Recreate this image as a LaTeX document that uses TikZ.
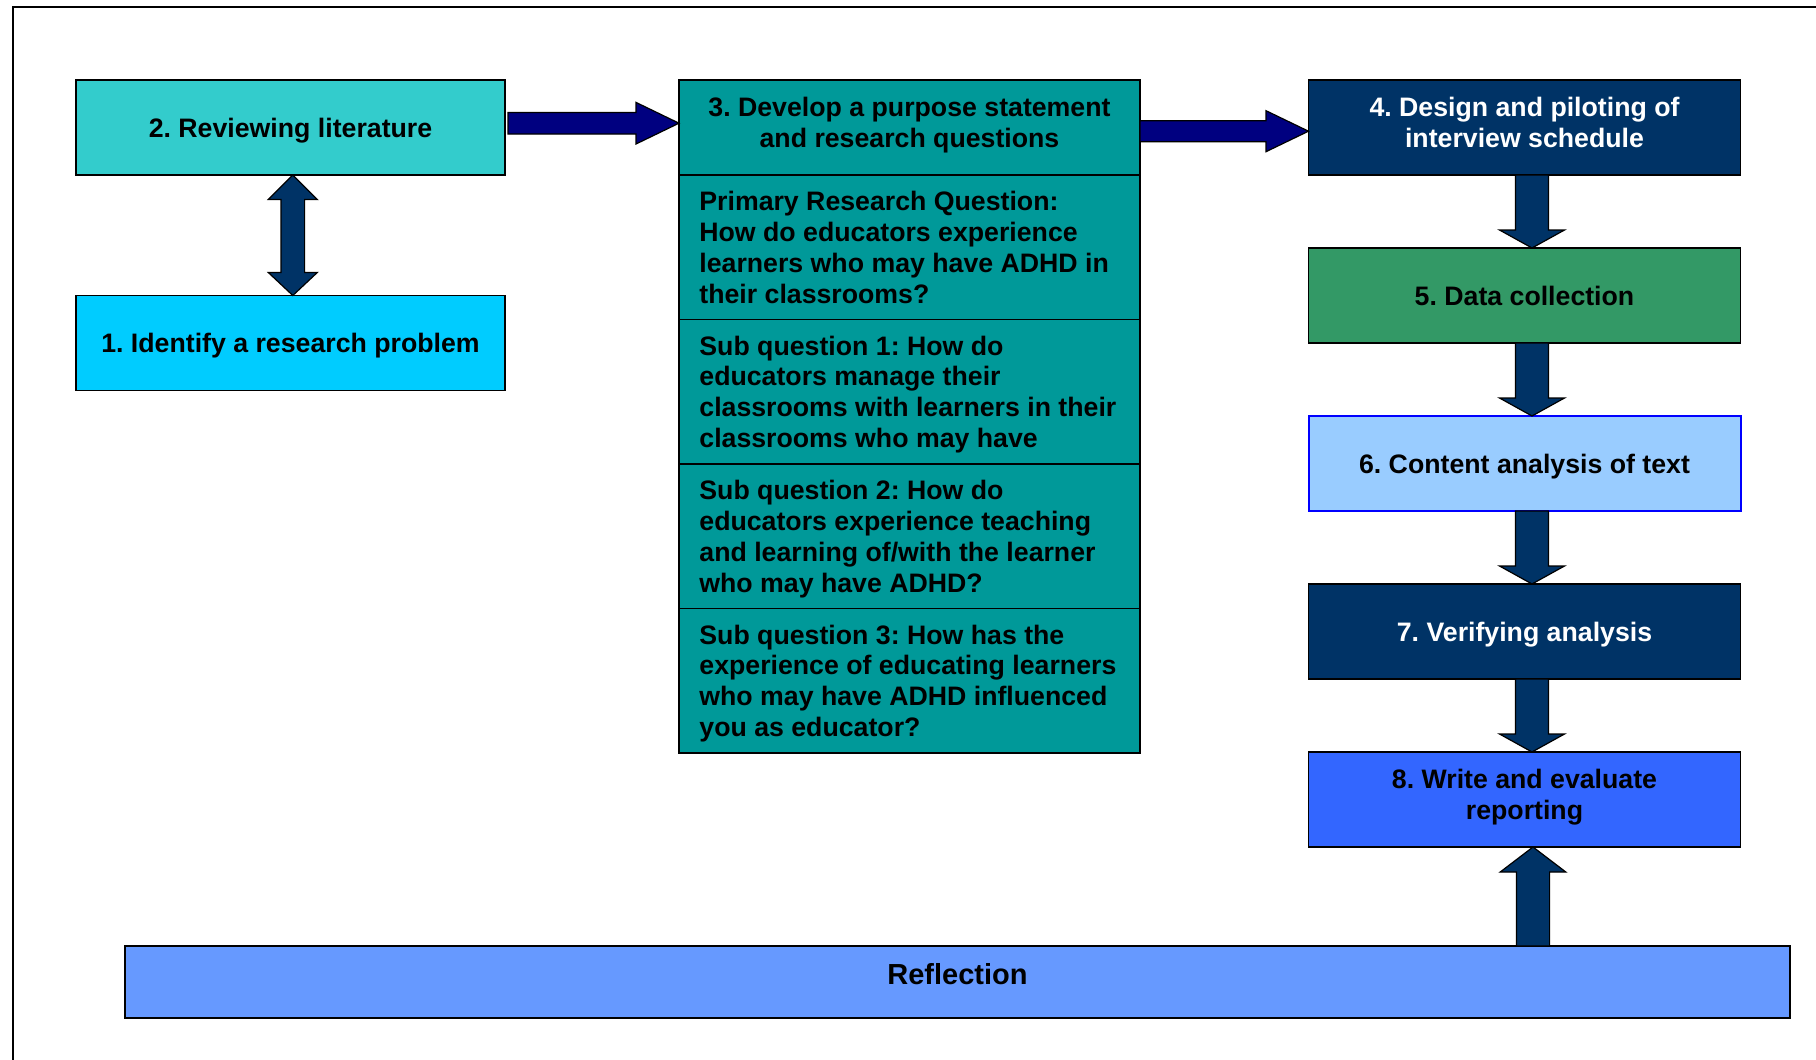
\documentclass[tikz,border=0pt]{standalone}
\usepackage{fontspec}
\setmainfont{Liberation Sans}
\frenchspacing
\usetikzlibrary{calc}
\definecolor{cTurq}{HTML}{33CCCC}
\definecolor{cSky}{HTML}{00CCFF}
\definecolor{cTeal}{HTML}{009999}
\definecolor{cDeep}{HTML}{003366}
\definecolor{cGreen}{HTML}{339966}
\definecolor{cPale}{HTML}{99CCFF}
\definecolor{cBlue}{HTML}{3366FF}
\definecolor{cRefl}{HTML}{6699FF}
\definecolor{cNavy}{HTML}{000080}
\definecolor{cEdge}{HTML}{0000FF}
\tikzset{
  box/.style={draw=black, line width=0.8pt, inner sep=0pt, outer sep=0pt,
    font=\fontsize{13.35pt}{15.45pt}\selectfont\bfseries, align=center, text depth=0pt},
  rbox/.style={box, minimum width=216pt, minimum height=47.5pt},
  lbox/.style={box, minimum width=214.5pt, minimum height=47.5pt},
  sec/.style={box, fill=cTeal, minimum width=230.5pt, minimum height=72.25pt, anchor=north},
  txt/.style={inner sep=0pt, font=\fontsize{13.35pt}{15.45pt}\selectfont\bfseries, align=center, text depth=0pt},
  qtxt/.style={inner sep=0pt, font=\fontsize{13.35pt}{15.45pt}\selectfont\bfseries, align=left, anchor=west, text depth=0pt},
  harrow/.style={draw=black, line width=0.6pt, fill=cNavy},
  varrow/.style={draw=black, line width=0.6pt, fill=cDeep},
}
\newcommand{\DownBlk}[2]{%
  \draw[varrow] let \p1=($(#1.south)+(7.5,0)$), \p2=($(#2.north)+(7.5,0)$) in
    (\x1-8.25pt,\y1) -- (\x1-8.25pt,\y2+9pt) -- (\x1-16.25pt,\y2+9pt) -- (\x1,\y2)
    -- (\x1+16.25pt,\y2+9pt) -- (\x1+8.25pt,\y2+9pt) -- (\x1+8.25pt,\y1) -- cycle;}
\begin{document}
\begin{tikzpicture}[x=0.5pt,y=-0.5pt]
\useasboundingbox (0,0) rectangle (1816,1060);
\fill[white] (0,0) rectangle (1816,1060);
% frame
\draw[line width=0.9pt] (13,1062) -- (13,7) -- (1818,7);

% left column
\node[lbox, fill=cTurq] (b2) at (290.5,127.5) {2. Reviewing literature};
\node[lbox, fill=cSky] (b1) at (290.5,343) {1. Identify a research problem};

% middle column
\node[box, fill=cTeal, minimum width=230.5pt, minimum height=47.5pt] (b3) at (909.5,127.5) {};
\node[txt, yshift=2.5pt] (b3t) at (b3) {3. Develop a purpose statement\\and research questions};
\node[sec] (s1) at (b3.south) {};
\node[sec] (s2) at (s1.south) {};
\node[sec] (s3) at (s2.south) {};
\node[sec] (s4) at (s3.south) {};
\node[qtxt] (s1t) at ([xshift=10pt]s1.west) {Primary Research Question:\\How do educators experience\\learners who may have ADHD in\\their classrooms?};
\node[qtxt] (s2t) at ([xshift=10pt]s2.west) {Sub question 1: How do\\educators manage their\\classrooms with learners in their\\classrooms who may have};
\node[qtxt] (s3t) at ([xshift=10pt]s3.west) {Sub question 2: How do\\educators experience teaching\\and learning of/with the learner\\who may have ADHD?};
\node[qtxt] (s4t) at ([xshift=10pt]s4.west) {Sub question 3: How has the\\experience of educating learners\\who may have ADHD influenced\\you as educator?};

% right column
\node[rbox, fill=cDeep] (b4) at (1524.5,127.5) {};
\node[txt, text=white, yshift=2.5pt] (b4t) at (b4) {4. Design and piloting of\\interview schedule};
\node[rbox, fill=cGreen] (b5) at (1524.5,295.5) {5. Data collection};
\node[rbox, fill=cPale, draw=cEdge, line width=1pt] (b6) at (1524.5,463.5) {6. Content analysis of text};
\node[rbox, fill=cDeep, text=white] (b7) at (1524.5,631.5) {7. Verifying analysis};
\node[rbox, fill=cBlue] (b8) at (1524.5,799.5) {};
\node[txt, yshift=2.5pt] (b8t) at (b8) {8. Write and evaluate\\reporting};

% reflection
\node[box, fill=cRefl, minimum width=832.5pt, minimum height=36pt] (refl) at (957.5,982) {};
\node[txt, font=\fontsize{14.5pt}{17pt}\selectfont\bfseries, yshift=4pt] (reflt) at (refl) {Reflection};

% double arrow 2 <-> 1
\draw[varrow] let \p1=($(b2.south)+(2.3,0)$), \p2=($(b1.north)+(2.3,0)$) in
  (\x1,\y1) -- (\x1+12.25pt,\y1-12.25pt) -- (\x1+5.9pt,\y1-12.25pt) -- (\x1+5.9pt,\y2+11.5pt)
  -- (\x1+12.25pt,\y2+11.5pt) -- (\x1,\y2) -- (\x1-12.25pt,\y2+11.5pt) -- (\x1-5.9pt,\y2+11.5pt)
  -- (\x1-5.9pt,\y1-12.25pt) -- (\x1-12.25pt,\y1-12.25pt) -- cycle;

% horizontal arrows
\draw[harrow] let \p1=($(b2.east)+(3,-4.3)$), \p2=(b3.west) in
  (\x1,\y1+5.4pt) -- (\x2-21.5pt,\y1+5.4pt) -- (\x2-21.5pt,\y1+10.4pt) -- (\x2,\y1)
  -- (\x2-21.5pt,\y1-10.4pt) -- (\x2-21.5pt,\y1-5.4pt) -- (\x1,\y1-5.4pt) -- cycle;
\draw[harrow] let \p1=($(b3.east)+(0,3.7)$), \p2=(b4.west) in
  (\x1,\y1+5.25pt) -- (\x2-21.25pt,\y1+5.25pt) -- (\x2-21.25pt,\y1+10.25pt) -- (\x2,\y1)
  -- (\x2-21.25pt,\y1-10.25pt) -- (\x2-21.25pt,\y1-5.25pt) -- (\x1,\y1-5.25pt) -- cycle;

% vertical arrows
\DownBlk{b4}{b5}
\DownBlk{b5}{b6}
\DownBlk{b6}{b7}
\DownBlk{b7}{b8}

% up arrow reflection -> 8
\draw[varrow] let \p1=($(b8.south)+(8.5,0)$), \p2=(refl.north) in
  (\x1-8.3pt,\y2) -- (\x1-8.3pt,\y1-12.5pt) -- (\x1-16.4pt,\y1-12.5pt) -- (\x1,\y1)
  -- (\x1+16.4pt,\y1-12.5pt) -- (\x1+8.3pt,\y1-12.5pt) -- (\x1+8.3pt,\y2) -- cycle;
\end{tikzpicture}
\end{document}
